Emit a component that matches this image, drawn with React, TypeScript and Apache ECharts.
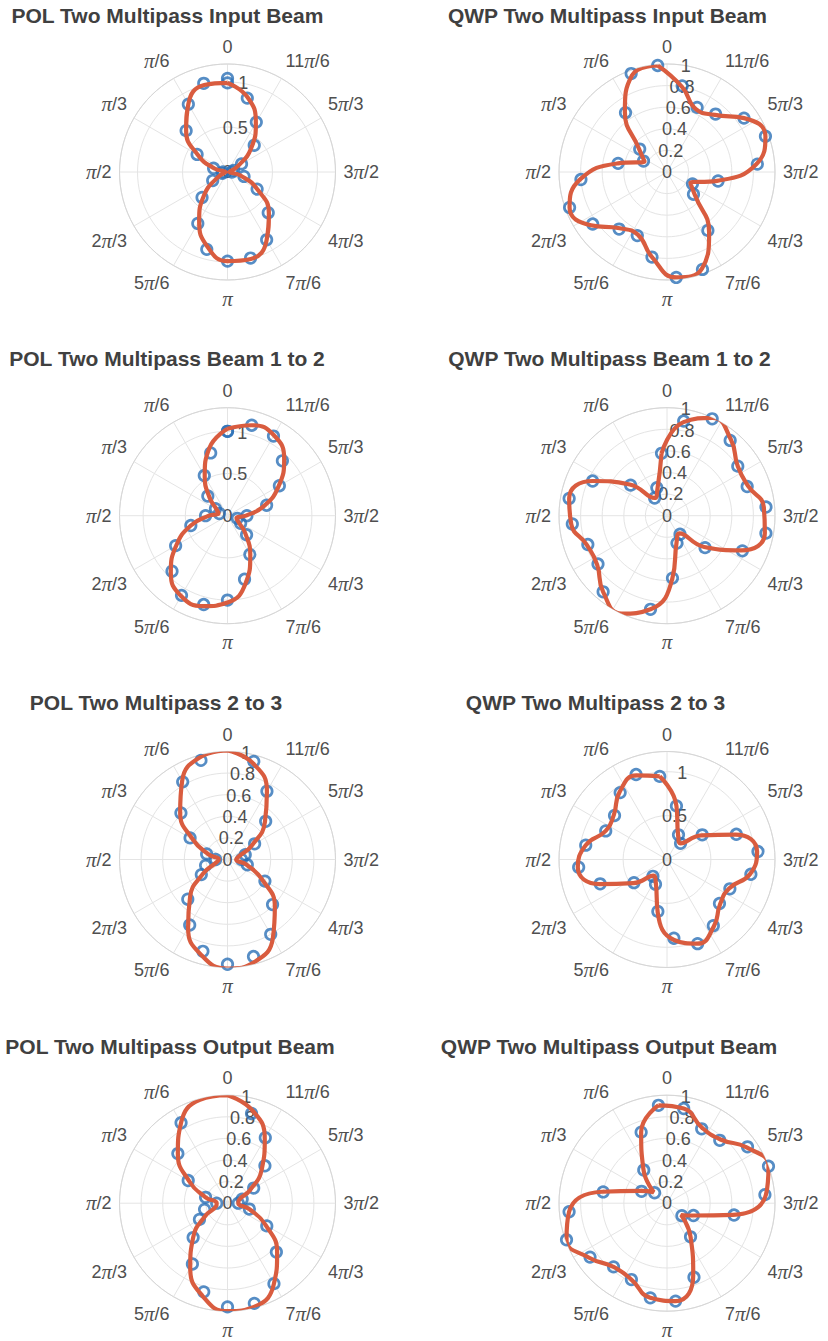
import React, { useEffect, useRef } from "react";
import * as echarts from "echarts";

// Sample angles (degrees): polarizer scans 0..360, quarter-wave-plate scans start at 5
const POL_ANGLES = [0, 15, 30, 45, 60, 75, 90, 105, 120, 135, 150, 165, 180, 195, 210, 225, 240, 255, 270, 285, 300, 315, 330, 345, 360];
const QWP_ANGLES = [5, 20, 35, 50, 65, 80, 95, 110, 125, 140, 155, 170, 185, 200, 215, 230, 245, 260, 275, 290, 305, 320, 335, 350];
const QWP_FIT_ANGLES = [5, 20, 35, 50, 65, 80, 95, 110, 125, 140, 155, 170, 185, 200, 215, 230, 245, 260, 275, 290, 305, 320, 335, 350, 365];

// Angular tick labels, every 30 degrees counter-clockwise from the top
const ANGLE_TICKS = ["0", "π/6", "π/3", "π/2", "2π/3", "5π/6", "π", "7π/6", "4π/3", "3π/2", "5π/3", "11π/6"];
// Radial tick labels
const COARSE_TICKS = ["0", "0.5", "1"];
const FINE_TICKS = ["0", "0.2", "0.4", "0.6", "0.8", "1"];

const TITLES = [
  "POL Two Multipass Input Beam",
  "QWP Two Multipass Input Beam",
  "POL Two Multipass Beam 1 to 2",
  "QWP Two Multipass Beam 1 to 2",
  "POL Two Multipass 2 to 3",
  "QWP Two Multipass 2 to 3",
  "POL Two Multipass Output Beam",
  "QWP Two Multipass Output Beam",
];

// Measured normalized intensities
const polInputData = [1.04, 1.02, 0.87, 0.65, 0.39, 0.16, 0.05, 0.06, 0.19, 0.4, 0.66, 0.89, 0.99, 0.99, 0.87, 0.64, 0.38, 0.19, 0.05, 0.07, 0.18, 0.42, 0.64, 0.85, 0.99];
const polInputFit = [0.99, 1.0, 0.87, 0.65, 0.38, 0.15, 0.02, 0.02, 0.14, 0.37, 0.63, 0.86, 0.99, 1.0, 0.87, 0.65, 0.38, 0.15, 0.02, 0.02, 0.14, 0.37, 0.63, 0.86, 0.99];

const qwpInputData = [0.99, 0.97, 0.67, 0.33, 0.24, 0.46, 0.8, 0.96, 0.84, 0.69, 0.65, 0.8, 0.98, 0.96, 0.66, 0.32, 0.26, 0.48, 0.84, 0.97, 0.87, 0.7, 0.66, 0.81];
const qwpInputFit = [0.99, 0.95, 0.68, 0.34, 0.23, 0.46, 0.81, 0.96, 0.86, 0.68, 0.64, 0.8, 0.98, 0.95, 0.68, 0.34, 0.24, 0.47, 0.83, 0.97, 0.87, 0.69, 0.64, 0.8, 0.99];

const pol12Data = [1.0, 0.77, 0.55, 0.33, 0.165, 0.1, 0.26, 0.45, 0.71, 0.93, 1.09, 1.09, 1.0, 0.78, 0.53, 0.32, 0.18, 0.12, 0.23, 0.48, 0.71, 0.92, 1.09, 1.11, 1.0];
const pol12Fit = [1.03, 0.83, 0.54, 0.3, 0.15, 0.11, 0.22, 0.45, 0.7, 0.95, 1.1, 1.11, 1.03, 0.83, 0.54, 0.3, 0.15, 0.11, 0.22, 0.45, 0.7, 0.95, 1.1, 1.11, 1.03];

const qwp12Data = [0.58, 0.275, 0.2, 0.44, 0.76, 0.92, 0.88, 0.78, 0.78, 0.92, 1.01, 0.88, 0.58, 0.27, 0.21, 0.46, 0.77, 0.93, 0.92, 0.79, 0.8, 0.91, 0.99, 0.89];
const qwp12Fit = [0.58, 0.26, 0.2, 0.45, 0.76, 0.92, 0.89, 0.79, 0.79, 0.92, 1.0, 0.88, 0.58, 0.26, 0.2, 0.45, 0.76, 0.92, 0.9, 0.8, 0.8, 0.92, 1.0, 0.88, 0.58];

const pol23Data = [1.025, 0.95, 0.83, 0.61, 0.4, 0.2, 0.11, 0.21, 0.28, 0.52, 0.7, 0.88, 0.97, 0.93, 0.8, 0.59, 0.4, 0.19, 0.13, 0.17, 0.29, 0.5, 0.73, 0.94, 1.02];
const pol23Fit = [1.01, 0.98, 0.84, 0.62, 0.37, 0.18, 0.08, 0.11, 0.26, 0.49, 0.73, 0.92, 1.01, 0.98, 0.84, 0.62, 0.37, 0.18, 0.08, 0.11, 0.26, 0.49, 0.73, 0.92, 1.01];

const qwp23Data = [0.95, 1.03, 0.93, 0.78, 0.77, 0.94, 1.01, 0.81, 0.46, 0.25, 0.31, 0.6, 0.9, 1.02, 0.92, 0.78, 0.79, 0.97, 1.04, 0.84, 0.49, 0.24, 0.31, 0.62];
const qwp23Fit = [0.95, 1.02, 0.94, 0.79, 0.77, 0.94, 1.02, 0.82, 0.47, 0.24, 0.3, 0.61, 0.92, 1.02, 0.93, 0.79, 0.78, 0.96, 1.03, 0.83, 0.48, 0.24, 0.3, 0.62, 0.95];

const polOutputData = [1.04, 1.02, 0.86, 0.65, 0.42, 0.21, 0.1, 0.22, 0.3, 0.45, 0.65, 0.85, 0.96, 0.96, 0.86, 0.64, 0.42, 0.21, 0.1, 0.14, 0.28, 0.49, 0.7, 0.86, 1.02];
const polOutputFit = [1.0, 0.99, 0.86, 0.65, 0.41, 0.21, 0.1, 0.11, 0.24, 0.45, 0.69, 0.89, 1.0, 0.99, 0.86, 0.65, 0.41, 0.21, 0.1, 0.11, 0.24, 0.45, 0.69, 0.89, 1.0];

const qwpOutputData = [0.91, 0.7, 0.375, 0.15, 0.26, 0.6, 0.91, 0.99, 0.87, 0.77, 0.78, 0.89, 0.91, 0.73, 0.38, 0.18, 0.27, 0.63, 0.91, 1.0, 0.91, 0.76, 0.76, 0.89];
const qwpOutputFit = [0.91, 0.7, 0.38, 0.16, 0.27, 0.61, 0.91, 0.99, 0.88, 0.77, 0.78, 0.89, 0.91, 0.71, 0.38, 0.17, 0.27, 0.62, 0.92, 1.0, 0.9, 0.77, 0.77, 0.89, 0.91];

// Radial axis extent and tick step per panel
const R_MAX = [1.2, 1.0, 1.28, 1.0, 1.0, 1.23, 1.0, 1.0];
const R_STEP = [0.5, 0.2, 0.5, 0.2, 0.2, 0.5, 0.2, 0.2];

type Panel = {
  title: string;
  angles: number[];
  data: number[];
  fitAngles: number[];
  fit: number[];
  rMax: number;
  step: number;
  ticks: string[];
};

const DATA = [polInputData, qwpInputData, pol12Data, qwp12Data, pol23Data, qwp23Data, polOutputData, qwpOutputData];
const FITS = [polInputFit, qwpInputFit, pol12Fit, qwp12Fit, pol23Fit, qwp23Fit, polOutputFit, qwpOutputFit];

const PANELS: Panel[] = TITLES.map((title, i) => {
  const isPol = i % 2 === 0;
  return {
    title,
    angles: isPol ? POL_ANGLES : QWP_ANGLES,
    data: DATA[i],
    fitAngles: isPol ? POL_ANGLES : QWP_FIT_ANGLES,
    fit: FITS[i],
    rMax: R_MAX[i],
    step: R_STEP[i],
    ticks: R_STEP[i] === 0.5 ? COARSE_TICKS : FINE_TICKS,
  };
});

// Layout
const COL_X = [227.5, 667];
const ROW_Y = [172, 515.7, 859.5, 1203.2];
const OUTER_R = 108;
const TITLE_OFFSET = 157;
const TITLE_CX = [167.4, 607.4, 167, 609.5, 156, 595.5, 170, 609];

const BLUE = "#2c70b6";
const RED = "#d95c3f";
const TEXT = "#4f4f4f";
const GRID = "#e4e4e4";
const SANS = "'Liberation Sans', Arial, sans-serif";

function angleLabel(v: number): string {
  const idx = ((Math.round(v / 30) % 12) + 12) % 12;
  return ANGLE_TICKS[idx]
    .split("π")
    .map((part) => (part ? `{n|${part}}` : ""))
    .join("{p|π}");
}

function buildOption() {
  const polar: any[] = [];
  const angleAxis: any[] = [];
  const radiusAxis: any[] = [];
  const series: any[] = [];
  const graphic: any[] = [];

  PANELS.forEach((p, i) => {
    const row = Math.floor(i / 2);
    const col = i % 2;
    const center = [COL_X[col], ROW_Y[row]];
    const base = i * 2;

    polar.push({ center, radius: [0, OUTER_R] }, { center, radius: [0, OUTER_R] });

    angleAxis.push(
      {
        polarIndex: base,
        type: "value",
        min: 0,
        max: 360,
        interval: 30,
        startAngle: 90,
        clockwise: false,
        axisLine: { show: true, lineStyle: { color: "#d6d6d6", width: 1 } },
        axisTick: { show: false },
        splitLine: { show: true, lineStyle: { color: GRID, width: 1 } },
        axisLabel: {
          margin: 8,
          formatter: angleLabel,
          color: TEXT,
          rich: {
            n: { fontFamily: SANS, fontSize: 18, color: TEXT },
            p: { fontFamily: "'Liberation Serif', serif", fontStyle: "italic", fontSize: 21, color: TEXT },
          },
        },
      },
      {
        polarIndex: base + 1,
        type: "value",
        min: 0,
        max: 360,
        startAngle: 80,
        clockwise: false,
        show: false,
      }
    );

    radiusAxis.push(
      {
        polarIndex: base,
        type: "value",
        min: 0,
        max: p.rMax,
        interval: p.step,
        axisLine: { show: false },
        axisTick: { show: false },
        axisLabel: { show: false },
        splitLine: { show: true, lineStyle: { color: GRID, width: 1 } },
      },
      {
        polarIndex: base + 1,
        type: "value",
        min: 0,
        max: p.rMax,
        interval: p.step,
        axisLine: { show: false },
        axisTick: { show: false },
        splitLine: { show: false },
        axisLabel: {
          show: true,
          margin: 0,
          align: "center",
          verticalAlign: "middle",
          fontFamily: SANS,
          fontSize: 18,
          color: TEXT,
          formatter: (v: number) => {
            const s = String(+v.toFixed(3));
            return p.ticks.includes(s) ? s : "";
          },
        },
      }
    );

    series.push(
      {
        type: "scatter",
        coordinateSystem: "polar",
        polarIndex: base,
        symbol: "circle",
        symbolSize: 10.5,
        itemStyle: { color: "rgba(0,0,0,0)", borderColor: BLUE, borderWidth: 2.7 },
        data: p.data.map((r, k) => [r, p.angles[k]]),
        z: 3,
      },
      {
        type: "line",
        coordinateSystem: "polar",
        polarIndex: base,
        smooth: true,
        symbol: "none",
        lineStyle: { color: RED, width: 4.2 },
        data: p.fit.map((r, k) => [r, p.fitAngles[k]]),
        z: 4,
      }
    );

    graphic.push({
      type: "text",
      x: TITLE_CX[i],
      y: ROW_Y[row] - TITLE_OFFSET,
      style: {
        text: p.title,
        fill: "#404040",
        font: `bold 21px ${SANS}`,
        align: "center",
        verticalAlign: "middle",
      },
    });
  });

  return {
    animation: false,
    backgroundColor: "#ffffff",
    polar,
    angleAxis,
    radiusAxis,
    series,
    graphic,
  };
}

export default function App() {
  const ref = useRef<HTMLDivElement>(null);

  useEffect(() => {
    if (!ref.current) return;
    const chart = echarts.init(ref.current, undefined, { renderer: "svg" });
    chart.setOption(buildOption() as any);
    return () => chart.dispose();
  }, []);

  return (
    <div
      ref={ref}
      style={{ position: "absolute", left: 0, top: 0, width: 828, height: 1341, background: "#fff" }}
    />
  );
}
